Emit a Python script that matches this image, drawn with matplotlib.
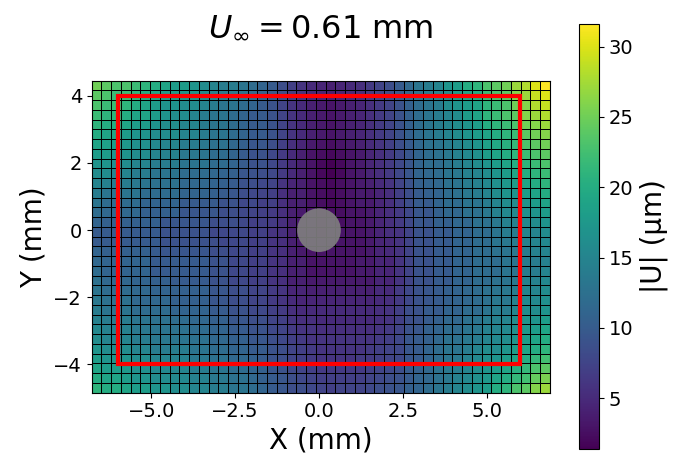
import numpy as np
import matplotlib.pyplot as plt
import matplotlib.patches as patches

# |U| (um) per cell, rows from top (y = 4.3 mm) to bottom (y = -4.7 mm),
# columns from left (x = -6.6 mm) to right (x = 6.7 mm)
u_mag = [
    [25,24,23,23,22,21,20,19,18,18,17,16,15,14,14,13,12,11,10, 8.5,7,6,5,4.5,4,4.5,5,5.5,6.5,7.5,8.5,10,11.5, 13,14,15,17,18,20,21,23,24,25,27,28,30,31.6],
    [24,23,22,22,21,20,19,18,18,17,17,16,15,14,14,13,12,11,10, 8.5,7,6,5,4.5,4,4.5,5,5.5,6.5,7.5,8.5,10,11.5, 13,14,15,16,18,19,20,22,23,24,26,27,29,30],
    [23,22,22,21,20,19,18,17,17,16,16,15,14,13,13,12,11,10,9, 7.5,6,5,4,3.5,3,3.5,4,4.5,5.5,6.5,7.5,9,10.5, 12,13,14,16,17,18,19,21,22,23,25,26,28,29],
    [22,21,21,20,19,19,18,17,16,16,15,14,13,13,12,11,10,10,9, 7.5,6,5,4,3.5,3,3.5,4,4.5,5.5,6.5,7.5,9,10.5, 12,13,14,15,16,18,19,21,22,23,24,26,27,28],
    [21,20,20,19,18,18,17,16,16,15,15,14,13,13,12,11,10,10,9, 7.5,6,5,4,3.5,3,3.5,4,4.5,5.5,6.5,7.5,9,10.5, 12,13,14,15,16,17,18,20,21,22,23,25,26,27],
    [20,19,19,18,17,17,16,16,16,15,15,14,13,13,12,11,10,10,9, 7.5,6,5,4,3.5,3,3.5,4,4.5,5.5,6.5,7.5,9,10.5, 12,13,14,15,16,17,18,19,20,21,22,24,25,26],
    [19,18.5,18,17.5,16.5,16.5,15.5,15,15,14,14,13.5,12.5,12.5,11.5,10.5,9.5,9.5,8.5, 7,5.5,4.5,3.5,3,2.5,3,3.5,4,5,6,7,8.5,10, 11.5,12.5,13,14,15,16,17,18.5,19.5,20.5,21.5,23,24,25],
    [18,18,17,17,16,16,15,14.5,14.5,13.5,13.5,13,12,12,11,10,9,9,8, 6.5,5,4,3,2.5,2,2.5,3,3.5,4.5,5.5,6.5,8,9.5, 11,12,12.5,13.5,14.5,15.5,16.5,18,19,20,21,22,23,24],
    [17,17,16,16,15,15,14,14,14,13,13,13,12,12,11,10,9,9,8, 6.5,5,4,3,2,1.4,2,3,3.5,4.5,5.5,6.5,8,9.5, 11,12,12,13,14,15,16,17,18,19,20,21,22,23],
    [16,16,15,15,14,14,13,13,13,12,12,12,11.5,11,10.5,9.5,9,8.5,8, 6.5,5,4,3,2,1.5,2,3,3.5,4.5,5.5,6.5,8,9.5, 11,11.5,12,13,13.5,14.5,15,16,17,18,19,20,21,22],
    [15,14.5,14,14,13.5,13,12.5,12.5,12.5,11.5,11.5,11.5,11,10.5,10,9,8.5,8,7.5, 6,4.5,4,3,2.5,2,2.5,3,3.5,4,5,6,7.5,9, 10.5,11,11.5,12.5,13,14,14.5,15.5,16.5,17.5,18,19,20,21],
    [14,13,13,13,13,12,12,12,12,11,11,11,10.5,10,9.5,8.5,8,7.5,7, 5.5,4,4,3,2.5,2,2.5,3,3.5,3.5,4.5,5.5,7,8.5, 10,10.5,11,12,12.5,13.5,14,15,16,17,17,18,19,20],
    [13,12,12,12,12,11,11,11,11,10,10,10,10,9,9,8,8,7,7, 5.5,4,4,3,2.5,2,2.5,3,3.5,3.5,4.5,5.5,7,8.5, 10,10,11,12,12,13,13,14,15,16,16,17,18,19],
    [12,11.5,11.5,11.5,11.5,10.5,10.5,10.5,10.5,9.5,9.5,9.5,9.5,8.5,8.5,8,7.5,7,6.5, 5.5,4,3.5,3,2.5,2.5,2.5,3,3,3.5,4.5,5.5,6.5,8, 9.5,9.5,10.5,11.5,11.5,12.5,12.5,13.5,14.5,15.5,15.5,16.5,17,18],
    [11,10.5,10.5,10.5,10.5,10.5,10.5,9.5,9.5,9.5,9.5,9.5,8.5,8.5,8.5,8,7,7,6.5, 5.5,4,3.5,3,2.5,3,2.5,3,3,3.5,4.5,5.5,6.5,8, 9.5,9.5,10.5,10.5,11.5,11.5,12.5,12.5,13.5,14.5,14.5,15.5,16,17],
    [10,10,10,10,10,10,10,9,9,9,9,9,8,8,8,8,7,7,6, 5.5,4,3,3,2.5,3,3,3,3,3.5,4.5,5.5,6,7.5, 9,9,10,10,11,11,12,12,13,14,14,15,15,16],
    [10,10,10,10,10,10,10,9,9,9,9,9,8.5,8,8,8,7,7,6, 5.5,4,3.5,3,3,3,3,3,3,3.5,4.5,5,6,7.5, 9,9,10,10,11,11,12,12,13,13.5,14,14.5,15,15.5],
    [11,10.5,10.5,10.5,10.5,10.5,10,9.5,9.5,9.5,9.5,9.5,8.5,8.5,8,8,7,7,6, 5.5,4,3.5,3,3,3,3,3,3,3.5,4.5,5,6,7.5, 9,9,10,10,11,11,12,12,12.5,13,13.5,14,14.5,15],
    [11.5,11,11,11,11,11,10,10,10,10,10,10,9,9,8,8,7,7,6, 5.5,4,4,3,3,3,3,3,3.5,3.5,4.5,4.5,6,7.5, 9,9,10,10,11,11,12,12,12,13,13,14,14,14.5],
    [12,11,11,11,11,11,10,10,10,10,10,10,9,9,8,8,7,7,6, 5.5,4,4,3,3,3,3,3,3.5,3.5,4.5,4.5,6,7.5, 9,9,10,10,11,11,12,12,12,13,13,14,14,15],
    [12.5,11.5,11.5,11.5,11,11,10.5,10.5,10,10,10,10,9,9,8,8,7,7,6, 5.5,4,4,3.5,3.5,3.5,3.5,3.5,3.5,3.5,4.5,4.5,6,7.5, 9,9,10,10,11,11,12,12,12.5,13,13.5,14.5,14.5,15.5],
    [13,12,12,12,11.5,11.5,11,11,10.5,10.5,10.5,10.5,9.5,9.5,8.5,8.5,7.5,7.5,6.5, 6,4.5,4.5,4,4,4,4,4,4,4,5,5,6.5,8, 9,9.5,10,10.5,11,11.5,12,12.5,13,13.5,14,15,15,16],
    [13.5,12.5,12.5,12.5,11.5,11.5,11.5,11.5,10.5,10.5,10.5,10.5,9.5,9.5,8.5,8.5,7.5,7.5,6.5, 6,5,4.5,4.5,4.5,4.5,4.5,4.5,4.5,4.5,5,5.5,6.5,8, 9,9.5,10,10.5,11,11.5,12,12.5,13.5,13.5,14.5,15.5,15.5,16.5],
    [14,13,13,13,12,12,12,12,11,11,11,11,10,10,9,9,8,8,7, 6.5,5.5,5,5,5,5,5,5,5,5,5.5,6,7,8.5, 9,10,10,11,11,12,12,13,14,14,15,16,16,17],
    [14.5,14,14,14,13,13,12.5,12.5,12,12,11.5,11.5,10.5,10.5,9.5,9.5,8.5,8.5,7.5, 7,6,5.5,5.5,5,5,5,5,5,5,5.5,6,7,8.5, 9,10,10.5,11.5,11.5,12.5,13,14,14.5,15,16,17,17,18],
    [15.5,14.5,14.5,14.5,13.5,13.5,13,13,12.5,12.5,12,12,11,11,10,10,9,9,8, 7.5,6.5,6,6,5.5,5.5,5.5,5.5,5.5,5.5,6,6.5,7.5,9, 9.5,10.5,11,12,12,13,13.5,14.5,15,15.5,16.5,17.5,18,19],
    [16,15,15,15,14,14,13.5,13.5,13,13,12.5,12.5,11.5,11.5,10.5,10.5,9.5,9.5,8.5, 8,7,6.5,6,6,6,6,6,6,6,6.5,7,8,9.5, 10,10.5,11.5,12.5,12.5,13.5,14,15,15.5,16,17,18,19,20],
    [17,16,16,16,15,15,14,14,14,14,13,13,12,12,11,11,10,10,9, 8.5,7.5,7,6.5,6,6,6,6,6,6.5,7,7.5,8,9.5, 10,11,12,13,13,14,15,16,16,17,18,19,20,21],
    [18,17,17,17,16,16,15,15,14.5,14.5,13.5,13.5,12.5,12.5,11.5,11.5,10.5,10,9, 8.5,7.5,7,6.5,6,6,6,6,6.5,6.5,7,7.5,8,9.5, 10,11,12,13,13.5,14.5,15.5,16.5,17,18,19,20,21.5,22.5],
    [19,18,18,17.5,16.5,16.5,15.5,15.5,15,15,14,14,13,13,12,12,11,10.5,9.5, 9,8,7.5,7,6.5,6.5,6.5,6.5,6.5,7,7.5,8,8.5,10, 10.5,11.5,12.5,13.5,14,15,16,17,18,19,20.5,21.5,23,24],
    [20,19,19,18,17,17,16,16,15.5,15.5,14.5,14.5,13.5,13.5,12.5,12.5,11.5,10.5,10, 9.5,8.5,8,7.5,7,7,7,7,7,7.5,8,8.5,9,10, 11,11.5,12.5,13.5,14.5,15.5,16.5,17.5,19,20,21.5,22.5,24.5,25.5],
    [21,20,20,19,18,18,17,17,16,16,15,15,14,14,13,13,12,11,10, 9.5,8.5,8.5,8,7.5,7,7.5,7.5,7.5,8,8.5,9,9.5,10.5, 11,12,13,14,15,16,17,18,20,21,23,24,26,27],
]

# cell edges of the measurement grid (mm)
x_edges = np.linspace(-6.77, 6.88, 48)
y_edges = np.linspace(4.45, -4.84, 33)

u_inf = 0.61           # mm
roi = (-6, -4, 12, 8)  # x0, y0, width, height (mm)
hole_r = 0.65          # mm

fig = plt.figure(figsize=(6.73, 4.57), dpi=100)
ax = fig.add_axes([0.1363, 0.1407, 0.6809, 0.6827])

mesh = ax.pcolormesh(x_edges, y_edges, np.array(u_mag), cmap='viridis',
                     edgecolors='k', linewidth=0.7)

rect = patches.Rectangle((roi[0], roi[1]), roi[2], roi[3], fill=False,
                         edgecolor='red', linewidth=3, zorder=3)
ax.add_patch(rect)
hole = patches.Circle((0, 0), hole_r, facecolor='grey', edgecolor='none',
                      alpha=0.9, zorder=4)
ax.add_patch(hole)

ax.set_xlim(x_edges[0], x_edges[-1])
ax.set_ylim(y_edges[-1], y_edges[0])
ax.set_xticks([-5, -2.5, 0, 2.5, 5])
ax.set_yticks([-4, -2, 0, 2, 4])
ax.tick_params(labelsize=14)
ax.set_xlabel('X (mm)', fontsize=20)
ax.set_ylabel('Y (mm)', fontsize=20)
ax.set_title(f'$U_\\infty = {u_inf}$ mm', fontsize=23, pad=32)

cax = fig.add_axes([579 / 673, 0.0175, 20 / 673, 0.93])
cb = fig.colorbar(mesh, cax=cax)
cb.ax.tick_params(labelsize=14)
cb.set_label('|U| (μm)', fontsize=20)

fig.savefig('out.png', dpi=100)
